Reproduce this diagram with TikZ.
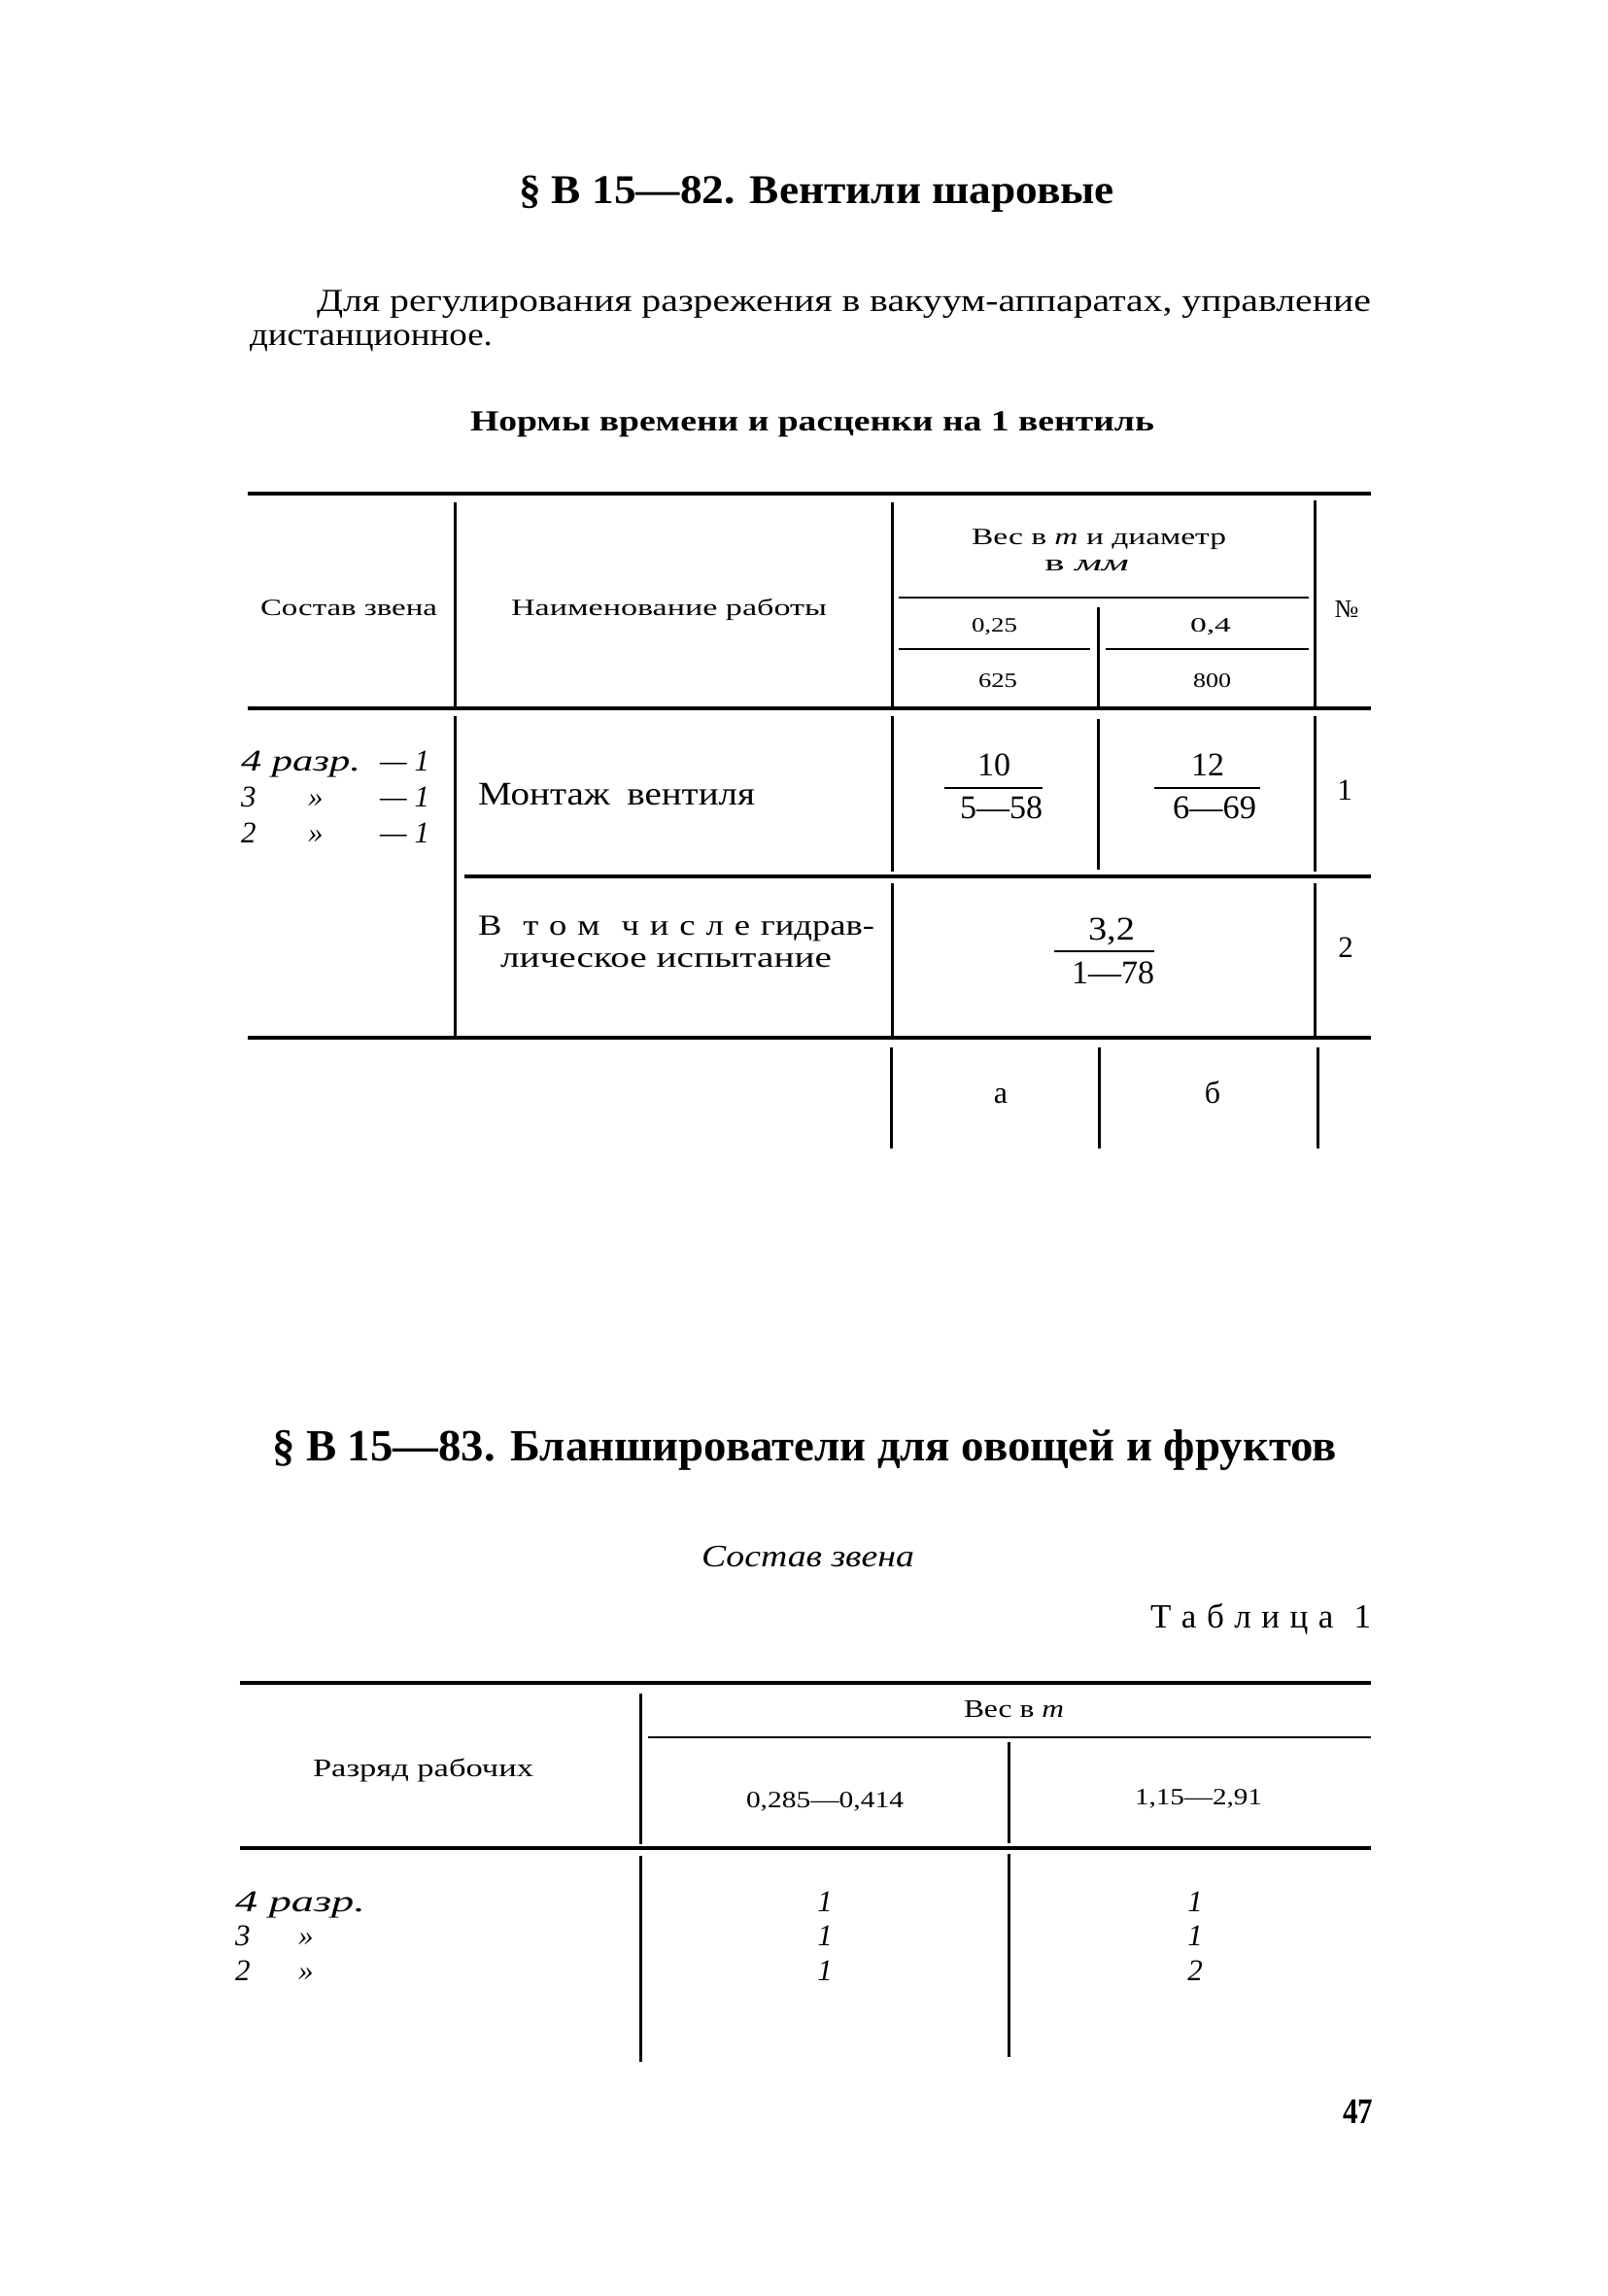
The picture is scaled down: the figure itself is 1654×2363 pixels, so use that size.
\documentclass[tikz,border=0pt]{standalone}
\usepackage{fontspec}
\setmainfont{Liberation Serif}
\usepackage{graphicx}
\newsavebox\fitbox
\newlength\fitlen
\newcommand\fitw[2]{\sbox\fitbox{#2}\setlength\fitlen{\wd\fitbox}\pgfmathsetmacro\fitratio{#1/\fitlen}\scalebox{\fitratio}[1]{\usebox\fitbox}}
\newcommand\fsz[1]{\fontsize{#1}{#1}\selectfont}
\newcommand\lsp{\hspace{0.3em}}
\tikzset{
  tx/.style={inner sep=0pt, outer sep=0pt, anchor=base west},
  tc/.style={inner sep=0pt, outer sep=0pt, anchor=base},
  te/.style={inner sep=0pt, outer sep=0pt, anchor=base east},
  hrule/.style={line width=3.5pt},
  hthin/.style={line width=2.8pt},
  vrule/.style={line width=3pt},
  fracline/.style={line width=2.5pt}
}
\begin{document}
\begin{tikzpicture}[x=1pt,y=-1pt]
\fill[white] (0,0) rectangle (1654,2363);
\path[use as bounding box] (0,0) rectangle (1654,2363);

% ---- Section B 15-82
\node[tx] (title1) at (534,209) {\fitw{613}{\fsz{42}\bfseries § В 15—82. Вентили шаровые}};
\node[tx] (para1) at (326,320) {\fitw{1085}{\fsz{33}Для регулирования разрежения в вакуум-аппаратах, управление}};
\node[tx] (para2) at (257,355) {\fitw{250}{\fsz{33}дистанционное.}};
\node[tx] (norms) at (484,443) {\fitw{704}{\fsz{30}\bfseries Нормы времени и расценки на 1 вентиль}};

% Table 1 rules
\draw[hrule] (255,508) -- (1411,508);
\draw[vrule] (468,517) -- (468,727);
\draw[vrule] (918,517) -- (918,727);
\draw[vrule] (1353,515) -- (1353,727);
\draw[hthin] (925,615) -- (1347,615);
\draw[vrule] (1130,625) -- (1130,727);
\draw[hthin] (925,668) -- (1122,668);
\draw[hthin] (1138,668) -- (1347,668);
\draw[hrule] (255,729) -- (1411,729);
\draw[vrule] (468,737) -- (468,1066);
\draw[vrule] (918,737) -- (918,897);
\draw[vrule] (918,909) -- (918,1066);
\draw[vrule] (1130,740) -- (1130,895);
\draw[vrule] (1353,737) -- (1353,897);
\draw[vrule] (1353,909) -- (1353,1066);
\draw[hrule] (478,902) -- (1411,902);
\draw[hrule] (255,1068) -- (1411,1068);
\draw[vrule] (917,1078) -- (917,1182);
\draw[vrule] (1131,1078) -- (1131,1182);
\draw[vrule] (1356,1078) -- (1356,1182);

% Table 1 header
\node[tx] (h1) at (268,633) {\fitw{182}{\fsz{24}Состав звена}};
\node[tx] (h2) at (526,633) {\fitw{325}{\fsz{24}Наименование работы}};
\node[tx] (h3) at (1000,560) {\fitw{262}{\fsz{24}Вес в \textit{т} и диаметр}};
\node[tx] (h4) at (1075,587) {\fitw{87}{\fsz{24}в \textit{мм}}};
\node[tc] (h5) at (1386,635) {\fsz{26}№};
\node[tx] (h6) at (1000,650) {\fitw{47}{\fsz{21}0,25}};
\node[tx] (h7) at (1225,650) {\fitw{42}{\fsz{21}0,4}};
\node[tx] (h8) at (1007,707) {\fitw{40}{\fsz{21}625}};
\node[tx] (h9) at (1228,707) {\fitw{39}{\fsz{21}800}};

% Table 1 row 1
\node[tx] (c1) at (248,793) {\fitw{123}{\fsz{31}\itshape 4 разр.}};
\node[te] (c1d) at (442,793) {\fsz{31}\itshape — 1};
\node[tx] (c2) at (248,830) {\fsz{31}\itshape 3};
\node[tx] (c2q) at (317,830) {\fsz{31}\itshape »};
\node[te] (c2d) at (442,830) {\fsz{31}\itshape — 1};
\node[tx] (c3) at (248,867) {\fsz{31}\itshape 2};
\node[tx] (c3q) at (317,867) {\fsz{31}\itshape »};
\node[te] (c3d) at (442,867) {\fsz{31}\itshape — 1};
\node[tx] (m1) at (492,828) {\fitw{285}{\fsz{34}Монтаж\hspace{0.45em}вентиля}};
\node[tc] (f1n) at (1023,798) {\fsz{34}10};
\draw[fracline] (972,811) -- (1073,811);
\node[tx] (f1d) at (988,842) {\fitw{85}{\fsz{34}5—58}};
\node[tc] (f2n) at (1243,798) {\fsz{34}12};
\draw[fracline] (1188,811) -- (1297,811);
\node[tx] (f2d) at (1207,842) {\fitw{86}{\fsz{34}6—69}};
\node[tc] (n1) at (1384,823) {\fsz{31}1};

% Table 1 row 2
\node[tx] (r2a) at (492,962) {\fitw{408}{\fsz{30}В\lsp\lsp т\lsp о\lsp м\lsp\lsp ч\lsp и\lsp с\lsp л\lsp е\lsp гидрав-}};
\node[tx] (r2b) at (515,995) {\fitw{341}{\fsz{30}лическое испытание}};
\node[tx] (f3n) at (1120,967) {\fitw{48}{\fsz{34}3,2}};
\draw[fracline] (1085,979) -- (1188,979);
\node[tx] (f3d) at (1103,1012) {\fitw{85}{\fsz{34}1—78}};
\node[tc] (n2) at (1385,985) {\fsz{31}2};

% footer
\node[tc] (ca) at (1030,1135) {\fsz{32}а};
\node[tc] (cb) at (1248,1135) {\fsz{32}б};

% ---- Section B 15-83
\node[tx] (title2) at (280,1503) {\fitw{1096}{\fsz{46}\bfseries § В 15—83. Бланширователи для овощей и фруктов}};
\node[tx] (sub2) at (722,1612) {\fitw{219}{\fsz{32}\itshape Состав звена}};
\node[tx] (tab1) at (1184,1675) {\fitw{227}{\fsz{35}Т\lsp а\lsp б\lsp л\lsp и\lsp ц\lsp а\lsp\lsp 1}};

% Table 2 rules
\draw[hrule] (247,1732) -- (1411,1732);
\draw[vrule] (659,1743) -- (659,1898);
\draw[hthin] (667,1788) -- (1411,1788);
\draw[vrule] (1038,1793) -- (1038,1897);
\draw[hrule] (247,1902) -- (1411,1902);
\draw[vrule] (659,1910) -- (659,2122);
\draw[vrule] (1038,1908) -- (1038,2117);

% Table 2 header
\node[tx] (t2h1) at (992,1767) {\fitw{103}{\fsz{26}Вес в \textit{т}}};
\node[tx] (t2h2) at (322,1828) {\fitw{227}{\fsz{26}Разряд рабочих}};
\node[tx] (t2h3) at (768,1860) {\fitw{162}{\fsz{24}0,285—0,414}};
\node[tx] (t2h4) at (1168,1857) {\fitw{131}{\fsz{24}1,15—2,91}};

% Table 2 body
\node[tx] (d1) at (242,1967) {\fitw{134}{\fsz{31}\itshape 4 разр.}};
\node[tx] (d2) at (242,2002) {\fsz{31}\itshape 3};
\node[tx] (d2q) at (307,2002) {\fsz{31}\itshape »};
\node[tx] (d3) at (242,2038) {\fsz{31}\itshape 2};
\node[tx] (d3q) at (307,2038) {\fsz{31}\itshape »};
\node[tc] (e11) at (849,1967) {\fsz{31}\itshape 1};
\node[tc] (e12) at (849,2002) {\fsz{31}\itshape 1};
\node[tc] (e13) at (849,2038) {\fsz{31}\itshape 1};
\node[tc] (e21) at (1230,1967) {\fsz{31}\itshape 1};
\node[tc] (e22) at (1230,2002) {\fsz{31}\itshape 1};
\node[tc] (e23) at (1230,2038) {\fsz{31}\itshape 2};

% page number
\node[tx] (pg) at (1382,2185) {\fitw{31}{\fsz{37}\bfseries 47}};
\end{tikzpicture}
\end{document}
